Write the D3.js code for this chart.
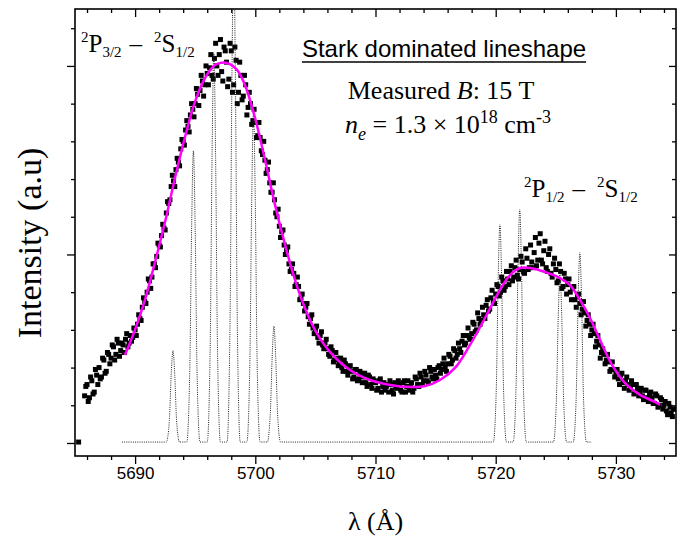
<!DOCTYPE html>
<html>
<head>
<meta charset="utf-8">
<script src="https://cdn.jsdelivr.net/npm/d3@7"></script>
<style>
  body { margin: 0; background: #fff; }
</style>
</head>
<body>
<div id="chart"></div>
<script>
// measured spectrum [lambda (A), intensity], two interleaved scans
const measured = [
  [5685.3,.005],[5685.8,.25],
  [5686.0,.31],[5686.2,.24],[5686.4,.33],[5686.6,.27],[5686.8,.36],
  [5687.0,.40],[5687.2,.35],[5687.4,.44],[5687.6,.38],[5687.8,.47],
  [5688.0,.45],[5688.2,.51],[5688.4,.47],[5688.6,.53],[5688.8,.49],
  [5689.0,.52],[5689.2,.55],[5689.4,.51],[5689.6,.57],[5689.8,.56],
  [5690.0,.60],[5690.2,.63],[5690.4,.66],[5690.6,.72],[5690.8,.75],
  [5691.0,.80],[5691.2,.86],[5691.4,.88],[5691.6,.95],[5691.8,.99],
  [5692.0,1.05],[5692.2,1.10],[5692.4,1.14],[5692.6,1.22],[5692.8,1.27],
  [5693.0,1.36],[5693.2,1.39],[5693.4,1.45],[5693.6,1.49],[5693.8,1.56],
  [5694.0,1.60],[5694.2,1.66],[5694.4,1.68],[5694.6,1.74],[5694.8,1.77],
  [5695.0,1.80],[5695.2,1.85],[5695.4,1.87],[5695.6,1.92],[5695.8,1.90],
  [5696.0,1.96],[5696.2,1.99],[5696.4,1.95],[5696.6,2.04],[5696.8,2.00],
  [5697.0,2.06],[5697.2,1.97],[5697.4,2.10],[5697.6,2.02],[5697.8,1.93],
  [5698.0,2.08],[5698.2,1.90],[5698.4,2.03],[5698.6,1.86],[5698.8,1.95],
  [5699.0,1.84],[5699.2,1.90],[5699.4,1.78],[5699.6,1.80],[5699.8,1.71],
  [5700.0,1.70],[5700.2,1.63],[5700.4,1.62],[5700.6,1.53],[5700.8,1.50],
  [5701.0,1.45],[5701.2,1.38],[5701.4,1.33],[5701.6,1.29],[5701.8,1.20],
  [5702.0,1.15],[5702.2,1.12],[5702.4,1.05],[5702.6,1.02],[5702.8,.95],
  [5703.0,.92],[5703.2,.90],[5703.4,.84],[5703.6,.83],[5703.8,.77],
  [5704.0,.74],[5704.2,.72],[5704.4,.67],[5704.6,.66],[5704.8,.61],
  [5705.0,.60],[5705.2,.56],[5705.4,.57],[5705.6,.52],[5705.8,.53],
  [5706.0,.50],[5706.2,.46],[5706.4,.49],[5706.6,.44],[5706.8,.45],
  [5707.0,.43],[5707.2,.40],[5707.4,.44],[5707.6,.38],[5707.8,.40],
  [5708.0,.38],[5708.2,.35],[5708.4,.39],[5708.6,.34],[5708.8,.37],
  [5709.0,.35],[5709.2,.32],[5709.4,.36],[5709.6,.31],[5709.8,.34],
  [5710.0,.32],[5710.2,.29],[5710.4,.34],[5710.6,.30],[5710.8,.28],
  [5711.0,.31],[5711.2,.33],[5711.4,.28],[5711.6,.32],[5711.8,.29],
  [5712.0,.31],[5712.2,.27],[5712.4,.33],[5712.6,.30],[5712.8,.28],
  [5713.0,.32],[5713.2,.29],[5713.4,.34],[5713.6,.30],[5713.8,.35],
  [5714.0,.33],[5714.2,.36],[5714.4,.32],[5714.6,.38],[5714.8,.34],
  [5715.0,.36],[5715.2,.40],[5715.4,.37],[5715.6,.42],[5715.8,.40],
  [5716.0,.42],[5716.2,.46],[5716.4,.44],[5716.6,.49],[5716.8,.47],
  [5717.0,.50],[5717.2,.54],[5717.4,.52],[5717.6,.57],[5717.8,.56],
  [5718.0,.58],[5718.2,.63],[5718.4,.60],[5718.6,.66],[5718.8,.65],
  [5719.0,.68],[5719.2,.73],[5719.4,.70],[5719.6,.77],[5719.8,.75],
  [5720.0,.79],[5720.2,.83],[5720.4,.80],[5720.6,.86],[5720.8,.83],
  [5721.0,.87],[5721.2,.91],[5721.4,.86],[5721.6,.93],[5721.8,.89],
  [5722.0,.92],[5722.2,.96],[5722.4,.90],[5722.6,.98],[5722.8,.93],
  [5723.0,.96],[5723.2,1.01],[5723.4,.94],[5723.6,1.06],[5723.8,.97],
  [5724.0,1.02],[5724.2,.93],[5724.4,1.00],[5724.6,.90],[5724.8,.95],
  [5725.0,.92],[5725.2,.86],[5725.4,.91],[5725.6,.83],[5725.8,.87],
  [5726.0,.84],[5726.2,.80],[5726.4,.82],[5726.6,.76],[5726.8,.78],
  [5727.0,.74],[5727.2,.71],[5727.4,.69],[5727.6,.65],[5727.8,.63],
  [5728.0,.60],[5728.2,.58],[5728.4,.54],[5728.6,.52],[5728.8,.48],
  [5729.0,.47],[5729.2,.44],[5729.4,.43],[5729.6,.39],[5729.8,.39],
  [5730.0,.37],[5730.2,.34],[5730.4,.36],[5730.6,.32],[5730.8,.33],
  [5731.0,.31],[5731.2,.29],[5731.4,.31],[5731.6,.27],[5731.8,.29],
  [5732.0,.27],[5732.2,.25],[5732.4,.28],[5732.6,.24],[5732.8,.26],
  [5733.0,.24],[5733.2,.21],[5733.4,.25],[5733.6,.20],[5733.8,.23],
  [5734.0,.20],[5734.2,.17],[5734.4,.21],[5734.6,.16],[5734.8,.18]
];

const measuredB = [
  [5685.9,.30],
  [5686.1,.22],[5686.3,.35],[5686.5,.26],[5686.7,.39],[5686.9,.31],
  [5687.1,.34],[5687.3,.45],[5687.5,.37],[5687.7,.48],[5687.9,.42],
  [5688.1,.52],[5688.3,.44],[5688.5,.55],[5688.7,.46],[5688.9,.53],
  [5689.1,.48],[5689.3,.58],[5689.5,.53],[5689.7,.54],[5689.9,.61],
  [5690.1,.57],[5690.3,.68],[5690.5,.65],[5690.7,.77],[5690.9,.74],
  [5691.1,.87],[5691.3,.82],[5691.5,.95],[5691.7,.93],[5691.9,1.06],
  [5692.1,1.04],[5692.3,1.16],[5692.5,1.13],[5692.7,1.28],[5692.9,1.29],
  [5693.1,1.42],[5693.3,1.36],[5693.5,1.51],[5693.7,1.47],[5693.9,1.61],
  [5694.1,1.58],[5694.3,1.71],[5694.5,1.65],[5694.7,1.80],[5694.9,1.73],
  [5695.1,1.88],[5695.3,1.79],[5695.5,1.95],[5695.7,1.84],[5695.9,2.00],
  [5696.1,1.90],[5696.3,2.06],[5696.5,1.93],[5696.7,2.12],[5696.9,1.95],
  [5697.1,2.14],[5697.3,1.92],[5697.5,2.08],[5697.7,1.89],[5697.9,2.12],
  [5698.1,1.86],[5698.3,2.10],[5698.5,1.80],[5698.7,2.02],[5698.9,1.82],
  [5699.1,1.95],[5699.3,1.74],[5699.5,1.86],[5699.7,1.69],[5699.9,1.77],
  [5700.1,1.62],[5700.3,1.70],[5700.5,1.55],[5700.7,1.60],[5700.9,1.43],
  [5701.1,1.49],[5701.3,1.33],[5701.5,1.38],[5701.7,1.22],[5701.9,1.24],
  [5702.1,1.09],[5702.3,1.13],[5702.5,1.00],[5702.7,1.04],[5702.9,.91],
  [5703.1,.95],[5703.3,.83],[5703.5,.88],[5703.7,.76],[5703.9,.79],
  [5704.1,.70],[5704.3,.74],[5704.5,.63],[5704.7,.68],[5704.9,.58],
  [5705.1,.62],[5705.3,.53],[5705.5,.59],[5705.7,.50],[5705.9,.55],
  [5706.1,.47],[5706.3,.51],[5706.5,.43],[5706.7,.48],[5706.9,.41],
  [5707.1,.45],[5707.3,.38],[5707.5,.42],[5707.7,.36],[5707.9,.41],
  [5708.1,.34],[5708.3,.39],[5708.5,.33],[5708.7,.38],[5708.9,.32],
  [5709.1,.37],[5709.3,.30],[5709.5,.35],[5709.7,.29],[5709.9,.33],
  [5710.1,.28],[5710.3,.33],[5710.5,.27],[5710.7,.32],[5710.9,.30],
  [5711.1,.27],[5711.3,.31],[5711.5,.26],[5711.7,.30],[5711.9,.33],
  [5712.1,.28],[5712.3,.32],[5712.5,.27],[5712.7,.33],[5712.9,.30],
  [5713.1,.27],[5713.3,.35],[5713.5,.31],[5713.7,.37],[5713.9,.31],
  [5714.1,.38],[5714.3,.33],[5714.5,.40],[5714.7,.35],[5714.9,.39],
  [5715.1,.34],[5715.3,.41],[5715.5,.39],[5715.7,.45],[5715.9,.38],
  [5716.1,.47],[5716.3,.42],[5716.5,.50],[5716.7,.45],[5716.9,.53],
  [5717.1,.48],[5717.3,.57],[5717.5,.53],[5717.7,.61],[5717.9,.55],
  [5718.1,.64],[5718.3,.59],[5718.5,.69],[5718.7,.63],[5718.9,.72],
  [5719.1,.66],[5719.3,.76],[5719.5,.71],[5719.7,.81],[5719.9,.74],
  [5720.1,.84],[5720.3,.78],[5720.5,.88],[5720.7,.81],[5720.9,.91],
  [5721.1,.84],[5721.3,.94],[5721.5,.88],[5721.7,.97],[5721.9,.87],
  [5722.1,.99],[5722.3,.91],[5722.5,1.03],[5722.7,.92],[5722.9,1.05],
  [5723.1,.93],[5723.3,1.09],[5723.5,.97],[5723.7,1.11],[5723.9,.95],
  [5724.1,1.07],[5724.3,.91],[5724.5,1.03],[5724.7,.88],[5724.9,.98],
  [5725.1,.85],[5725.3,.95],[5725.5,.82],[5725.7,.90],[5725.9,.79],
  [5726.1,.87],[5726.3,.76],[5726.5,.83],[5726.7,.72],[5726.9,.79],
  [5727.1,.68],[5727.3,.75],[5727.5,.62],[5727.7,.68],[5727.9,.57],
  [5728.1,.63],[5728.3,.51],[5728.5,.57],[5728.7,.45],[5728.9,.50],
  [5729.1,.42],[5729.3,.47],[5729.5,.38],[5729.7,.43],[5729.9,.35],
  [5730.1,.39],[5730.3,.31],[5730.5,.37],[5730.7,.29],[5730.9,.35],
  [5731.1,.28],[5731.3,.33],[5731.5,.26],[5731.7,.31],[5731.9,.25],
  [5732.1,.29],[5732.3,.23],[5732.5,.28],[5732.7,.22],[5732.9,.27],
  [5733.1,.21],[5733.3,.26],[5733.5,.19],[5733.7,.24],[5733.9,.18],
  [5734.1,.22],[5734.3,.15],[5734.5,.19],[5734.7,.14],[5734.9,.18]
];

// stark fit (magenta)
const fitCurve = [
  [5689.16,.467],[5689.99,.600],[5690.82,.759],[5691.66,.960],[5692.49,1.172],
  [5693.32,1.406],[5694.15,1.623],[5694.98,1.809],[5695.82,1.936],[5696.65,2.005],
  [5697.65,2.016],[5698.48,1.979],[5699.14,1.899],[5699.98,1.724],[5700.81,1.501],
  [5701.64,1.263],[5702.48,1.050],[5703.30,.865],[5704.13,.716],[5704.97,.599],
  [5706.21,.483],[5707.88,.387],[5709.54,.334],[5711.21,.308],[5712.87,.297],
  [5714.12,.302],[5715.37,.334],[5716.61,.398],[5717.86,.520],[5719.11,.663],
  [5720.36,.812],[5721.19,.891],[5722.02,.928],[5722.85,.928],[5724.10,.907],
  [5725.35,.875],[5726.18,.838],[5727.01,.759],[5727.85,.663],[5728.68,.546],
  [5729.68,.414],[5730.76,.318],[5732.01,.255],[5733.25,.218],[5733.67,.202]
];

// simulated zeeman components (dotted)
const simLine = [
  [5688.9,.005],
  [5692.6,.005],[5692.85,.12],[5693.0,.36],[5693.15,.49],[5693.3,.36],[5693.45,.12],[5693.7,.005],
  [5694.3,.005],[5694.55,.39],[5694.7,1.13],[5694.85,1.55],[5695.0,1.13],[5695.15,.39],[5695.4,.005],
  [5696.0,.005],[5696.25,.52],[5696.4,1.51],[5696.55,2.07],[5696.7,1.51],[5696.85,.52],[5697.1,.005],
  [5697.65,.005],[5697.9,.65],[5698.05,1.9],[5698.2,2.6],[5698.35,1.9],[5698.5,.65],[5698.75,.005],
  [5699.3,.005],[5699.55,.44],[5699.7,1.28],[5699.85,1.75],[5700.0,1.28],[5700.15,.44],[5700.4,.005],
  [5701.0,.005],[5701.25,.16],[5701.4,.45],[5701.55,.62],[5701.7,.45],[5701.85,.16],[5702.1,.005],
  [5719.8,.005],[5720.05,.29],[5720.2,.85],[5720.35,1.16],[5720.5,.85],[5720.65,.29],[5720.9,.005],
  [5721.45,.005],[5721.7,.31],[5721.85,.91],[5722.0,1.24],[5722.15,.91],[5722.3,.31],[5722.55,.005],
  [5724.8,.005],[5725.05,.23],[5725.2,.66],[5725.35,.90],[5725.5,.66],[5725.65,.23],[5725.9,.005],
  [5726.45,.005],[5726.7,.25],[5726.85,.74],[5727.0,1.01],[5727.15,.74],[5727.3,.25],[5727.55,.005],
  [5728.0,.005]
];

const xTicks = [5690, 5700, 5710, 5720, 5730];
const yTicks = [0, 1, 2];

const W = 685, H = 540;
const space = { top: 9, right: 9, bottom: 84, left: 75 };
const serif = '"Liberation Serif", "Times New Roman", serif';
const sans = '"Liberation Sans", Arial, sans-serif';

const svg = d3.select('#chart')
  .append('svg')
  .attr('width', W)
  .attr('height', H);

const xScale = d3.scaleLinear()
  .domain([5685, 5735])
  .range([space.left, W - space.right]);

const yScale = d3.scaleLinear()
  .domain([-0.069, 2.302])
  .range([H - space.bottom, space.top]);

const x0 = space.left, x1 = W - space.right;
const y0 = H - space.bottom, y1 = space.top;

svg.append('clipPath').attr('id', 'plot')
  .append('rect')
  .attr('x', x0).attr('y', y1)
  .attr('width', x1 - x0).attr('height', y0 - y1);

// minor tick positions
const xMinor = d3.range(5686, 5735, 2).filter(v => v % 10 !== 0);
const yMinor = d3.range(1, 12).map(v => v / 5).filter(v => v % 1 !== 0);

function styleAxis(g) {
  g.select('.domain').remove();
  g.selectAll('.tick line').attr('stroke', '#000').attr('stroke-width', 1.3);
}

// bottom
svg.append('g')
  .attr('transform', `translate(0, ${y0})`)
  .call(d3.axisBottom(xScale).tickValues(xTicks).tickSize(8).tickPadding(3).tickFormat(d3.format('d')))
  .call(styleAxis)
  .selectAll('text')
  .style('font-family', sans)
  .style('font-size', '17px')
  .attr('fill', '#000');
svg.append('g')
  .attr('transform', `translate(0, ${y0})`)
  .call(d3.axisBottom(xScale).tickValues(xMinor).tickSize(4).tickFormat(''))
  .call(styleAxis);

// top (inward)
svg.append('g')
  .attr('transform', `translate(0, ${y1})`)
  .call(d3.axisTop(xScale).tickValues(xTicks).tickSize(-8).tickFormat(''))
  .call(styleAxis);
svg.append('g')
  .attr('transform', `translate(0, ${y1})`)
  .call(d3.axisTop(xScale).tickValues(xMinor).tickSize(-4).tickFormat(''))
  .call(styleAxis);

// left
svg.append('g')
  .attr('transform', `translate(${x0}, 0)`)
  .call(d3.axisLeft(yScale).tickValues(yTicks).tickSize(8).tickFormat(''))
  .call(styleAxis);
svg.append('g')
  .attr('transform', `translate(${x0}, 0)`)
  .call(d3.axisLeft(yScale).tickValues(yMinor).tickSize(4).tickFormat(''))
  .call(styleAxis);

// right (inward)
svg.append('g')
  .attr('transform', `translate(${x1}, 0)`)
  .call(d3.axisRight(yScale).tickValues(yTicks).tickSize(-7).tickFormat(''))
  .call(styleAxis);
svg.append('g')
  .attr('transform', `translate(${x1}, 0)`)
  .call(d3.axisRight(yScale).tickValues(yMinor).tickSize(-4).tickFormat(''))
  .call(styleAxis);

const plot = svg.append('g').attr('clip-path', 'url(#plot)');

// measured points
plot.selectAll('.pt')
  .data(measured.concat(measuredB))
  .enter()
  .append('rect')
  .attr('class', 'pt')
  .attr('x', d => xScale(d[0]) - 2.5)
  .attr('y', d => yScale(d[1]) - 2.5)
  .attr('width', 5)
  .attr('height', 5)
  .attr('fill', '#000');

// dotted simulation
const line = d3.line()
  .x(d => xScale(d[0]))
  .y(d => yScale(d[1]))
  .curve(d3.curveMonotoneX);

plot.append('path')
  .datum(simLine)
  .attr('d', line)
  .attr('fill', 'none')
  .attr('stroke', '#222')
  .attr('stroke-width', 1)
  .attr('stroke-dasharray', '1,1.2');

// fit
plot.append('path')
  .datum(fitCurve)
  .attr('d', line.curve(d3.curveCatmullRom))
  .attr('fill', 'none')
  .attr('stroke', '#ff00ff')
  .attr('stroke-width', 2.5);

// frame
svg.append('rect')
  .attr('x', x0).attr('y', y1)
  .attr('width', x1 - x0).attr('height', y0 - y1)
  .attr('fill', 'none')
  .attr('stroke', '#000')
  .attr('stroke-width', 1.6);

// axis titles
svg.append('text')
  .text('λ (Å)')
  .attr('x', (x0 + x1) / 2)
  .attr('y', 530)
  .attr('text-anchor', 'middle')
  .style('font-family', serif)
  .style('font-size', '26px');

svg.append('text')
  .text('Intensity (a.u)')
  .attr('transform', `translate(41, 243) rotate(-90)`)
  .attr('text-anchor', 'middle')
  .style('font-family', serif)
  .style('font-size', '34px');

// term labels
function termLabel(x, y, j1) {
  const t = svg.append('text')
    .attr('x', x).attr('y', y)
    .style('font-family', serif)
    .style('font-size', '25px');
  t.append('tspan').text('2').style('font-size', '15px').attr('dy', -10);
  t.append('tspan').text('P').attr('dy', 10);
  t.append('tspan').text(j1).style('font-size', '15px').attr('dy', 5);
  t.append('tspan').text('–').attr('dy', -5).attr('dx', 8);
  t.append('tspan').text('2').style('font-size', '15px').attr('dy', -10).attr('dx', 12);
  t.append('tspan').text('S').attr('dy', 10);
  t.append('tspan').text('1/2').style('font-size', '15px').attr('dy', 5);
}
termLabel(81, 52, '3/2');
termLabel(524, 197, '1/2');

// annotation block
const title = svg.append('text')
  .text('Stark dominated lineshape')
  .attr('x', 444)
  .attr('y', 57)
  .attr('text-anchor', 'middle')
  .style('font-family', sans)
  .style('font-size', '24px');
const bb = title.node().getBBox();
svg.append('line')
  .attr('x1', bb.x).attr('x2', bb.x + bb.width)
  .attr('y1', 62).attr('y2', 62)
  .attr('stroke', '#000')
  .attr('stroke-width', 1.5);

const mB = svg.append('text')
  .attr('x', 441).attr('y', 99)
  .attr('text-anchor', 'middle')
  .style('font-family', serif)
  .style('font-size', '26px');
mB.append('tspan').text('Measured ');
mB.append('tspan').text('B').style('font-style', 'italic');
mB.append('tspan').text(': 15 T');

const ne = svg.append('text')
  .attr('x', 345).attr('y', 133)
  .style('font-family', serif)
  .style('font-size', '26px');
ne.append('tspan').text('n').style('font-style', 'italic');
ne.append('tspan').text('e').style('font-style', 'italic').style('font-size', '18px').attr('dy', 7);
ne.append('tspan').text(' = 1.3 × 10').attr('dy', -7);
ne.append('tspan').text('18').style('font-size', '18px').attr('dy', -10);
ne.append('tspan').text(' cm').attr('dy', 10);
ne.append('tspan').text('-3').style('font-size', '18px').attr('dy', -10);
</script>
</body>
</html>
